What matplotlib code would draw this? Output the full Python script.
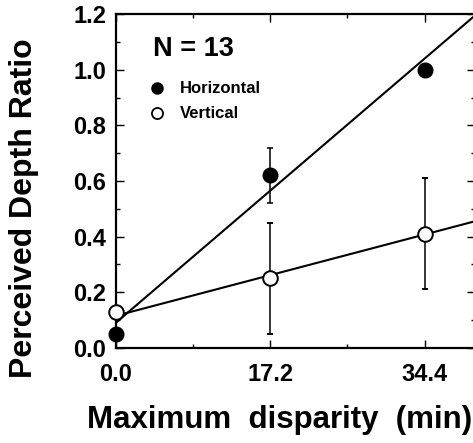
import numpy as np
import matplotlib
matplotlib.use('Agg')
import matplotlib.pyplot as plt
from matplotlib.ticker import MultipleLocator, FixedLocator, FormatStrFormatter

plt.rcParams['font.family'] = ['Liberation Sans', 'DejaVu Sans']
plt.rcParams['font.weight'] = 'bold'

# datos
disparity = [0.0, 17.2, 34.4]
horiz = [0.05, 0.62, 1.00]
horiz_err_lo = [0.0, 0.10, 0.0]
horiz_err_hi = [0.0, 0.10, 0.0]
vert = [0.13, 0.25, 0.41]
vert_err_lo = [0.0, 0.20, 0.20]
vert_err_hi = [0.0, 0.20, 0.20]

# rectas de ajuste (extremos)
fit_x = [0.0, 40.0]
fit_horiz = [0.09, 1.195]
fit_vert = [0.115, 0.455]

xticks = [0.0, 17.2, 34.4]
xticks_minor = [8.6, 25.8]
xtick_labels = ['0.0', '17.2', '34.4']

fig = plt.figure(figsize=(4.73, 4.43), dpi=100)
ax = fig.add_axes([0.245, 0.215, 0.759, 0.753])

ax.plot(fit_x, fit_horiz, color='black', lw=1.5, zorder=2)
ax.plot(fit_x, fit_vert, color='black', lw=1.5, zorder=2)

ax.errorbar(disparity, horiz, yerr=[horiz_err_lo, horiz_err_hi], fmt='o',
            color='black', ms=10.5, elinewidth=1.1, capsize=2.5, capthick=1.1,
            clip_on=False, zorder=3)
ax.errorbar(disparity, vert, yerr=[vert_err_lo, vert_err_hi], fmt='o',
            mfc='white', mec='black', mew=1.4, ecolor='black', ms=10.5,
            elinewidth=1.1, capsize=2.5, capthick=1.1, clip_on=False, zorder=3)

ax.set_xlim(0, 40)
ax.set_ylim(0, 1.2)
ax.xaxis.set_major_locator(FixedLocator(xticks))
ax.xaxis.set_minor_locator(FixedLocator(xticks_minor))
ax.set_xticklabels(xtick_labels)
ax.yaxis.set_major_locator(MultipleLocator(0.2))
ax.yaxis.set_minor_locator(MultipleLocator(0.1))
ax.yaxis.set_major_formatter(FormatStrFormatter('%.1f'))

ax.tick_params(which='both', direction='in', top=True, right=True, width=1.0)
ax.tick_params(which='major', length=6, labelsize=17)
ax.tick_params(which='minor', length=3)
ax.tick_params(axis='y', which='major', pad=7)
ax.tick_params(axis='x', which='major', pad=11)
for lab in ax.get_xticklabels() + ax.get_yticklabels():
    lab.set_fontweight('bold')

for s in ax.spines.values():
    s.set_linewidth(1.6)

# titulos de ejes
fig.text(0.051, 0.530, 'Perceived Depth Ratio', rotation=90, fontsize=23,
         fontweight='bold', ha='center', va='center')
fig.text(0.590, 0.034, 'Maximum  disparity  (min)', fontsize=22.5,
         fontweight='bold', ha='center', va='baseline')

# texto y leyenda dentro del grafico
ax.text(4.1, 1.076, 'N = 13', fontsize=19.5, fontweight='bold', va='center')
ax.plot([4.6], [0.934], 'o', color='black', ms=8)
ax.text(7.1, 0.934, 'Horizontal', fontsize=12, fontweight='bold', va='center')
ax.plot([4.6], [0.844], 'o', mfc='white', mec='black', mew=1.3, ms=8)
ax.text(7.1, 0.844, 'Vertical', fontsize=12, fontweight='bold', va='center')

fig.savefig('out.png', dpi=100)
